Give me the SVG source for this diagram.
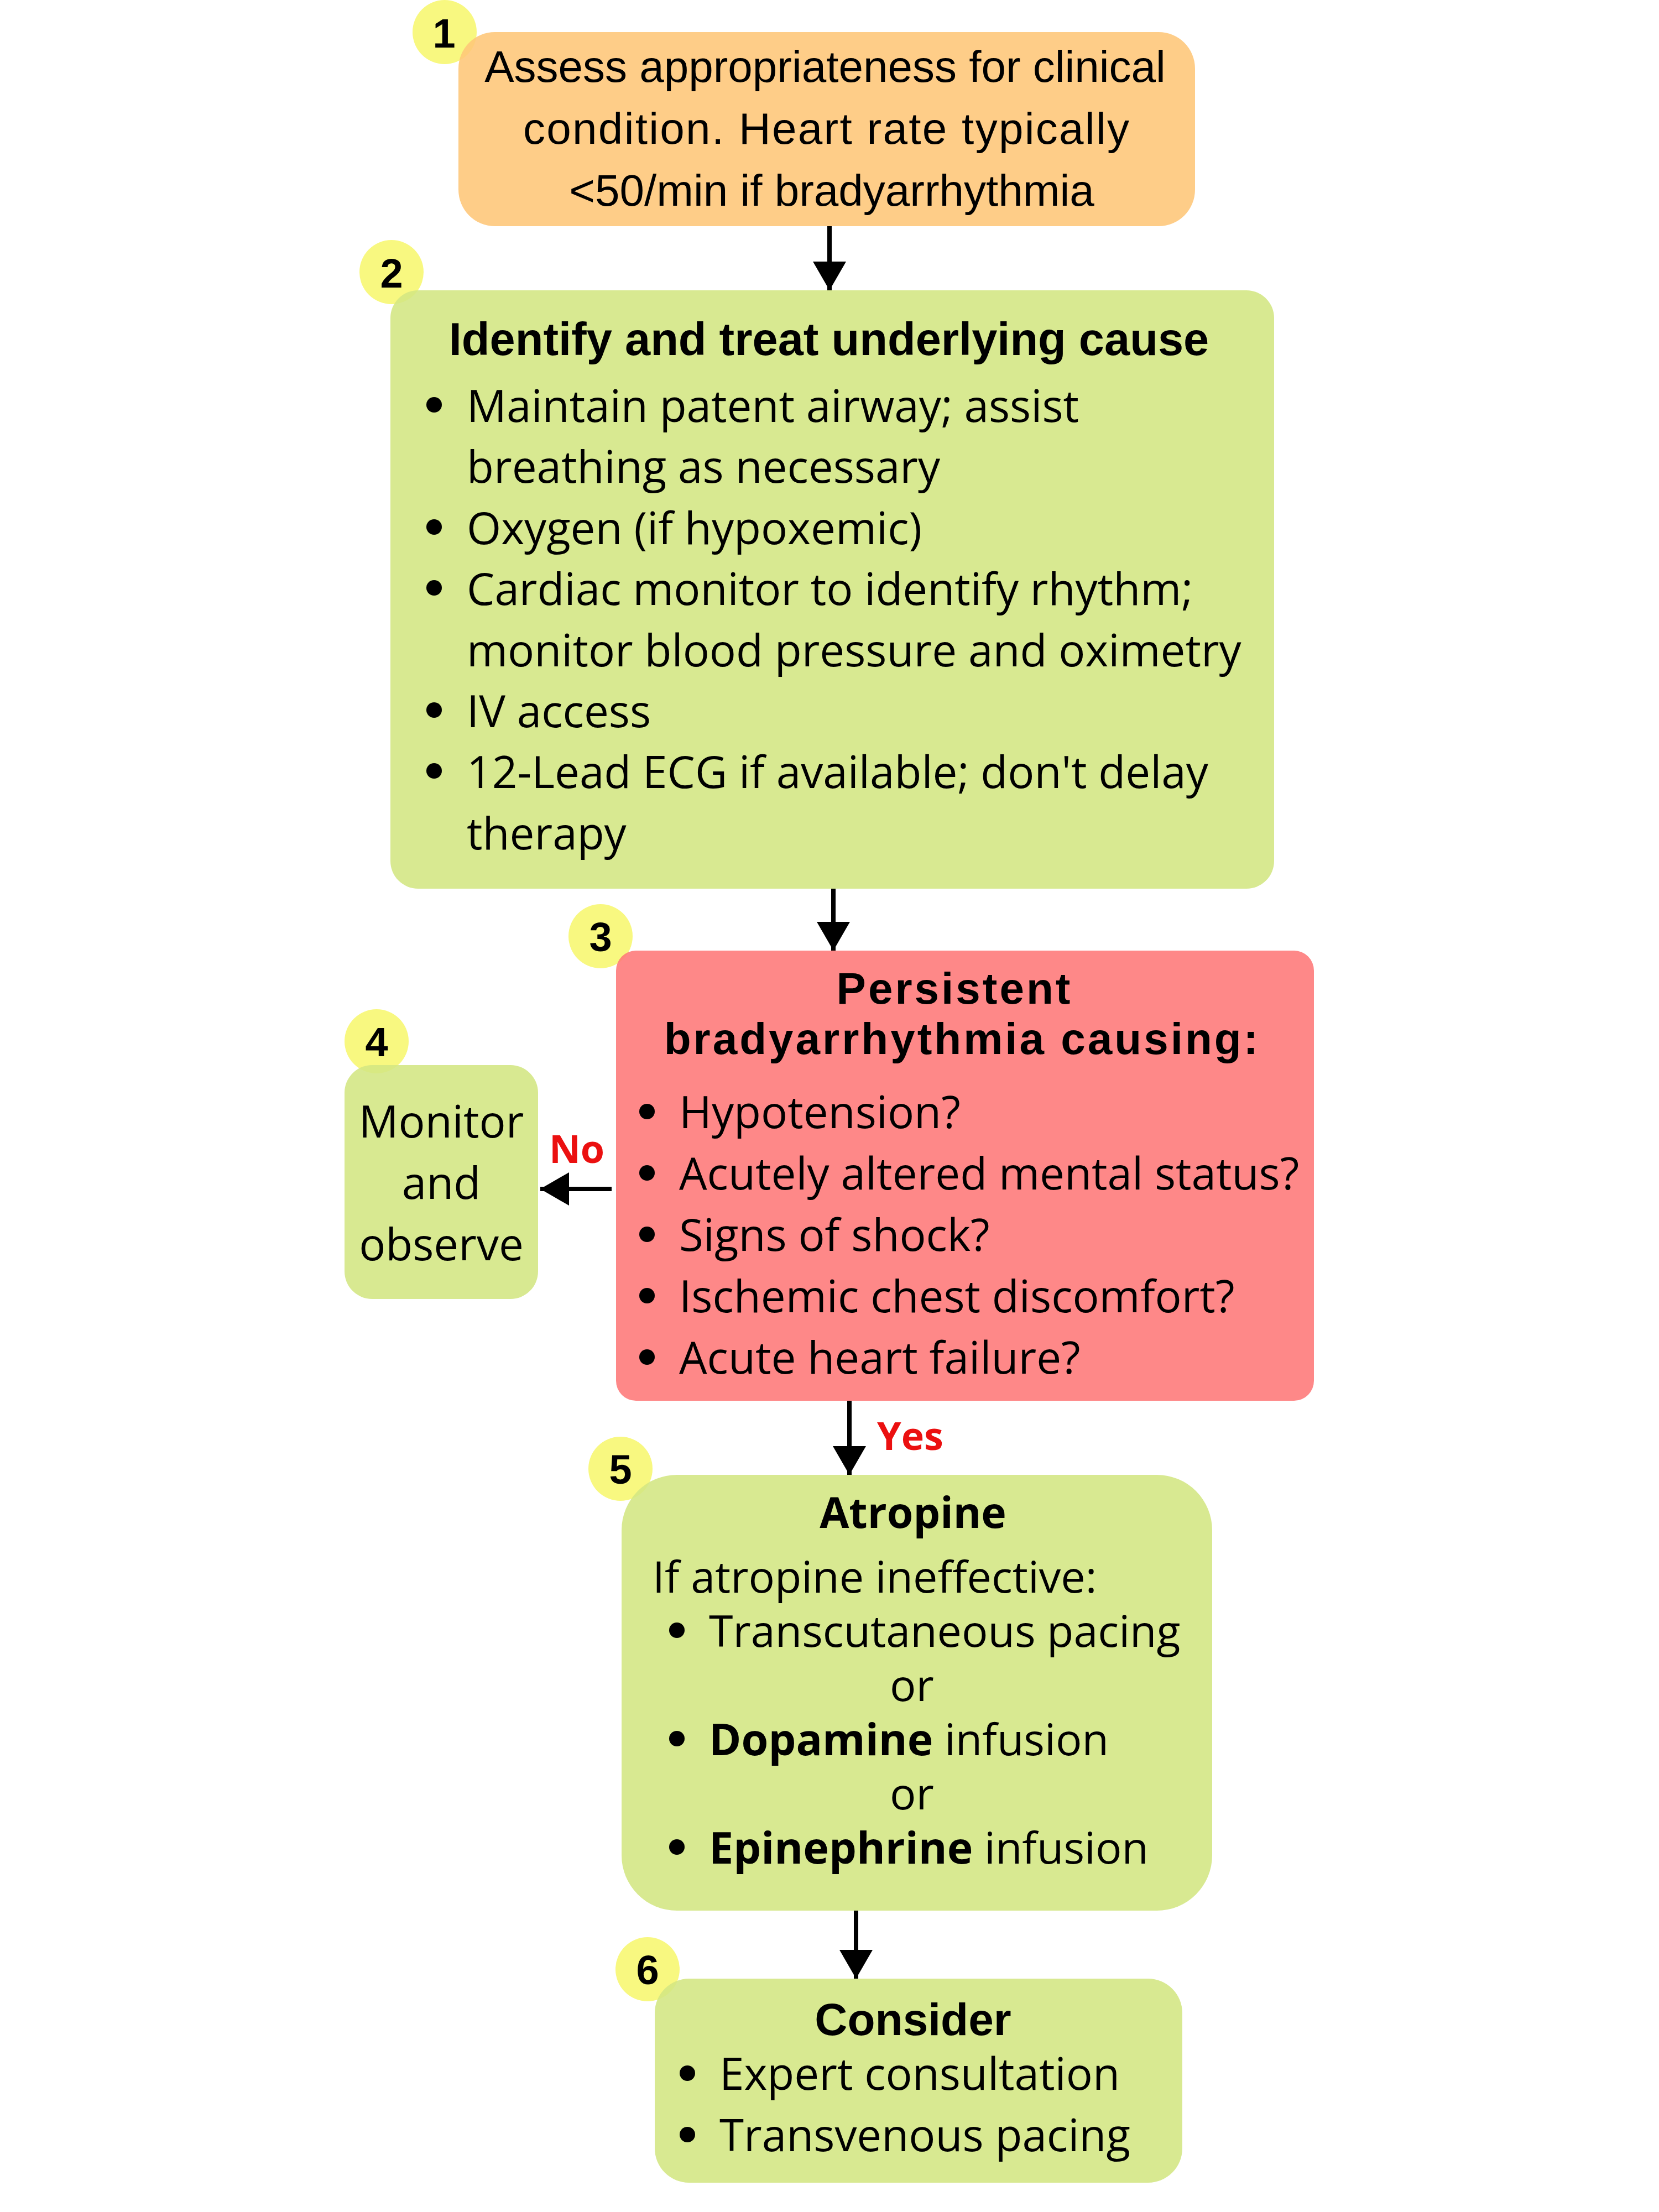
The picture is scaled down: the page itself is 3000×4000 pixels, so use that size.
<svg xmlns="http://www.w3.org/2000/svg" width="3000" height="4000" viewBox="0 0 3000 4000">
<defs>
<style>
.num{font-family:"Liberation Sans",Arial,sans-serif;font-weight:bold;font-size:74px;fill:#000;text-anchor:middle}
.badge{fill:#F8F880}
.t1{font-family:"Liberation Sans",Arial,sans-serif;font-size:80px;fill:#000;text-anchor:middle}
.hd{font-family:"Liberation Sans",Arial,sans-serif;font-weight:bold;fill:#000;text-anchor:middle}
.os{font-family:"Open Sans",sans-serif;font-size:80px;fill:#000}
.os5{font-family:"Open Sans",sans-serif;font-size:79px;fill:#000}
.osb{font-family:"Open Sans",sans-serif;font-weight:bold;font-size:77px;fill:#000}
.lbl{font-family:"Open Sans",sans-serif;font-weight:bold;font-size:70px;fill:#EB1010}
.green{fill:#D3E682;fill-opacity:0.88}
.orange{fill:#FEC677;fill-opacity:0.88}
.red{fill:#FE7777;fill-opacity:0.88}
.bul{fill:#000}
.conn{stroke:#000;stroke-width:8;fill:none;marker-end:url(#ah)}
</style>
<marker id="ah" markerUnits="userSpaceOnUse" markerWidth="52" markerHeight="60" refX="52" refY="30" orient="auto" viewBox="0 0 52 60">
<path d="M0,0 L52,30 L0,60 z" fill="#000"/>
</marker>
</defs>
<rect width="3000" height="4000" fill="#fff"/>

<g id="badges">
<circle class="badge" cx="804" cy="58" r="58"/>
<circle class="badge" cx="708" cy="492" r="58"/>
<circle class="badge" cx="1086" cy="1693" r="58"/>
<circle class="badge" cx="681" cy="1883" r="58"/>
<circle class="badge" cx="1122" cy="2656" r="58"/>
<circle class="badge" cx="1171" cy="3561" r="58"/>
</g>

<g id="connectors">
<line class="conn" x1="1500" y1="409" x2="1500" y2="525"/>
<line class="conn" x1="1507" y1="1607" x2="1507" y2="1719"/>
<line class="conn" x1="1106" y1="2150" x2="977" y2="2150"/>
<line class="conn" x1="1536" y1="2533" x2="1536" y2="2667"/>
<line class="conn" x1="1548" y1="3455" x2="1548" y2="3578"/>
<text class="lbl" x="1043" y="2103" text-anchor="middle">No</text>
<text class="lbl" x="1586" y="2622">Yes</text>
</g>

<g id="node1">
<rect class="orange" x="829" y="58" width="1332" height="351" rx="66"/>
<text class="num" x="803" y="86">1</text>
<text class="t1" x="1492" y="148">Assess appropriateness for clinical</text>
<text class="t1" x="1494" y="260" textLength="1096" lengthAdjust="spacing">condition. Heart rate typically</text>
<text class="t1" x="1504" y="372">&lt;50/min if bradyarrhythmia</text>
</g>

<g id="node2">
<rect class="green" x="706" y="525" width="1598" height="1082" rx="50"/>
<text class="num" x="708" y="520">2</text>
<text class="hd" x="1499" y="642" font-size="83">Identify and treat underlying cause</text>
<circle class="bul" cx="785" cy="732" r="14"/>
<text class="os" x="844" y="763">Maintain patent airway; assist</text>
<text class="os" x="844" y="873">breathing as necessary</text>
<circle class="bul" cx="785" cy="953" r="14"/>
<text class="os" x="844" y="984">Oxygen (if hypoxemic)</text>
<circle class="bul" cx="785" cy="1063" r="14"/>
<text class="os" x="844" y="1094">Cardiac monitor to identify rhythm;</text>
<text class="os" x="844" y="1205">monitor blood pressure and oximetry</text>
<circle class="bul" cx="785" cy="1284" r="14"/>
<text class="os" x="844" y="1315">IV access</text>
<circle class="bul" cx="785" cy="1394" r="14"/>
<text class="os" x="844" y="1425">12-Lead ECG if available; don't delay</text>
<text class="os" x="844" y="1536">therapy</text>
</g>

<g id="node3">
<rect class="red" x="1114" y="1719" width="1262" height="814" rx="36"/>
<text class="num" x="1086" y="1720">3</text>
<text class="hd" x="1726" y="1815" font-size="80" letter-spacing="4">Persistent</text>
<text class="hd" x="1740" y="1906" font-size="80" letter-spacing="4">bradyarrhythmia causing:</text>
<circle class="bul" cx="1170" cy="2010" r="14"/>
<text class="os" x="1228" y="2040">Hypotension?</text>
<circle class="bul" cx="1170" cy="2121" r="14"/>
<text class="os" x="1228" y="2151">Acutely altered mental status?</text>
<circle class="bul" cx="1170" cy="2232" r="14"/>
<text class="os" x="1228" y="2262">Signs of shock?</text>
<circle class="bul" cx="1170" cy="2343" r="14"/>
<text class="os" x="1228" y="2373">Ischemic chest discomfort?</text>
<circle class="bul" cx="1170" cy="2454" r="14"/>
<text class="os" x="1228" y="2484">Acute heart failure?</text>
</g>

<g id="node4">
<rect class="green" x="623" y="1926" width="350" height="423" rx="50"/>
<text class="num" x="681" y="1910">4</text>
<text class="os" x="798" y="2057" text-anchor="middle" font-size="78">Monitor</text>
<text class="os" x="798" y="2168" text-anchor="middle" font-size="78">and</text>
<text class="os" x="798" y="2279" text-anchor="middle" font-size="78">observe</text>
</g>

<g id="node5">
<rect class="green" x="1124" y="2667" width="1068" height="788" rx="100"/>
<text class="num" x="1122" y="2683">5</text>
<text class="osb" x="1651" y="2763" text-anchor="middle">Atropine</text>
<text class="os5" x="1180" y="2880">If atropine ineffective:</text>
<circle class="bul" cx="1224" cy="2948" r="14"/>
<text class="os5" x="1282" y="2978">Transcutaneous pacing</text>
<text class="os5" x="1649" y="3076" text-anchor="middle">or</text>
<circle class="bul" cx="1224" cy="3144" r="14"/>
<text class="os5" x="1282" y="3174"><tspan font-weight="bold">Dopamine</tspan> infusion</text>
<text class="os5" x="1649" y="3272" text-anchor="middle">or</text>
<circle class="bul" cx="1224" cy="3340" r="14"/>
<text class="os5" x="1282" y="3370"><tspan font-weight="bold">Epinephrine</tspan> infusion</text>
</g>

<g id="node6">
<rect class="green" x="1184" y="3578" width="954" height="369" rx="62"/>
<text class="num" x="1171" y="3588">6</text>
<text class="hd" x="1651" y="3680" font-size="82">Consider</text>
<circle class="bul" cx="1243" cy="3749" r="14"/>
<text class="os" x="1301" y="3779">Expert consultation</text>
<circle class="bul" cx="1243" cy="3860" r="14"/>
<text class="os" x="1301" y="3890">Transvenous pacing</text>
</g>
</svg>
